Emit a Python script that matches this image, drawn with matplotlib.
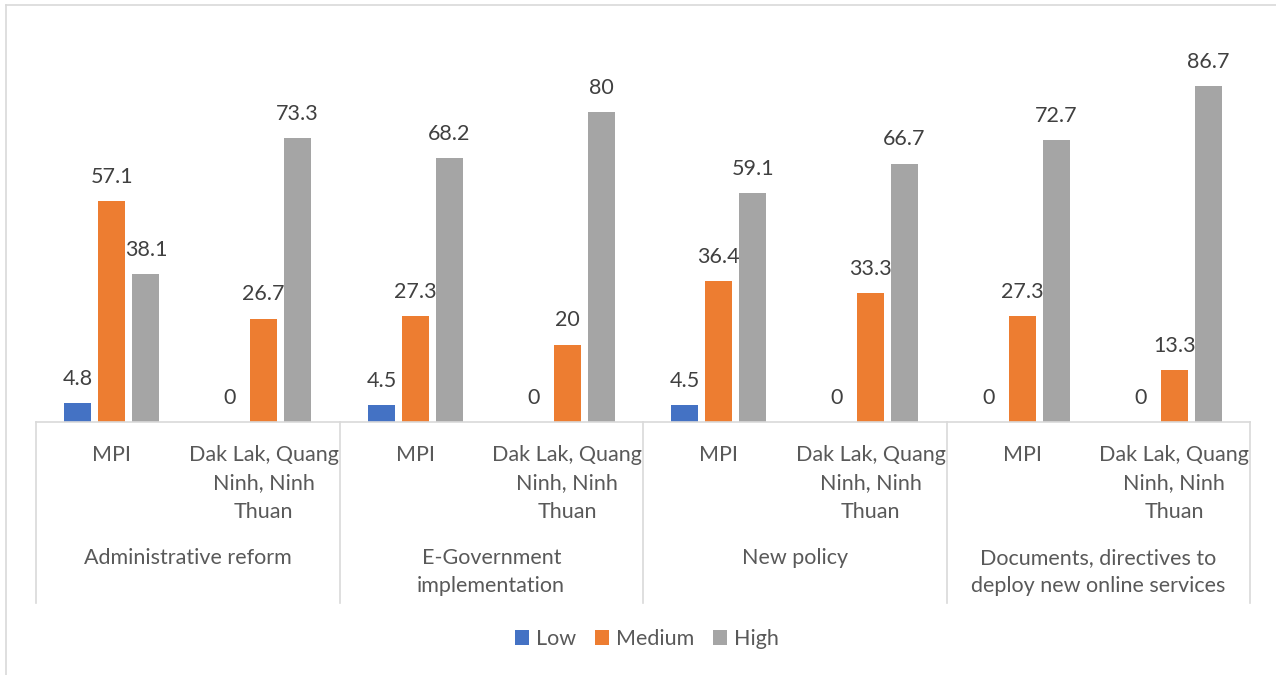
"""
Clustered bar chart: perceived level (Low/Medium/High) by topic and respondent group
"""

import numpy as np
import matplotlib.pyplot as plt
from matplotlib.lines import Line2D
from matplotlib.patches import Patch

plt.rcParams["font.family"] = ["Lato", "DejaVu Sans"]

# data
groups = [
    "Administrative reform",
    "E-Government\nimplementation",
    "New policy",
    "Documents, directives to\ndeploy new online services",
]
subgroups = ["MPI", "Dak Lak, Quang\nNinh, Ninh\nThuan"]
series = ["Low", "Medium", "High"]
low = [4.8, 0, 4.5, 0, 4.5, 0, 0, 0]
medium = [57.1, 26.7, 27.3, 20, 36.4, 33.3, 27.3, 13.3]
high = [38.1, 73.3, 68.2, 80, 59.1, 66.7, 72.7, 86.7]
colors = ["#4472C4", "#ED7D31", "#A5A5A5"]

W, H = 1276, 675
fig = plt.figure(figsize=(W / 100, H / 100), dpi=100)
ax = fig.add_axes([36 / W, 253 / H, 1214 / W, 387.5 / H])

n_cat = len(groups) * len(subgroups)
x = np.arange(n_cat)
step = 0.224
width = 0.178
text_col = "#595959"
fs = 15.5

for k, (name, vals, c) in enumerate(zip(series, [low, medium, high], colors)):
    xs = x + (k - 1) * step
    ax.bar(xs, vals, width=width, color=c, label=name)
    for xi, v in zip(xs, vals):
        ax.annotate(f"{v:g}", xy=(xi, v), xytext=(0, 13), textcoords="offset points",
                    ha="center", va="baseline", fontsize=fs, color="#404040")

ax.set_xlim(-0.5, n_cat - 0.5)
ax.set_ylim(0, 100)
for s in ["top", "left", "right"]:
    ax.spines[s].set_visible(False)
ax.spines["bottom"].set_color("#d9d9d9")
ax.spines["bottom"].set_linewidth(1.2)
ax.set_xticks([])
ax.set_yticks([])

px = 72 / 100  # pixels -> points
# sub-category labels
for i in range(n_cat):
    lab = subgroups[i % len(subgroups)]
    for j, line in enumerate(lab.split("\n")):
        ax.annotate(line, xy=(i, 0), xycoords=("data", "axes fraction"),
                    xytext=(0, -(33 + 28.5 * j) * px), textcoords="offset points",
                    ha="center", va="center", fontsize=fs, color=text_col)

# group labels
for g, lab in enumerate(groups):
    xc = g * len(subgroups) + 0.5
    for j, line in enumerate(lab.split("\n")):
        ax.annotate(line, xy=(xc, 0), xycoords=("data", "axes fraction"),
                    xytext=(0, -(136 + 28.5 * j) * px), textcoords="offset points",
                    ha="center", va="center", fontsize=fs, color=text_col)

# group separators
sep_len = 181 / 387.5
for b in np.arange(-0.5, n_cat, len(subgroups)):
    ax.plot([b, b], [0, -sep_len], transform=ax.get_xaxis_transform(),
            color="#d9d9d9", lw=1.2, clip_on=False)

# legend
handles = [Patch(facecolor=c, label=s) for s, c in zip(series, colors)]
fig.legend(handles=handles, loc="center", bbox_to_anchor=(647 / W, 1 - 639 / H),
           ncol=3, frameon=False, fontsize=fs, handlelength=0.65, handleheight=0.65,
           handletextpad=0.3, columnspacing=0.9, labelcolor=text_col)

# chart border (right/bottom edges fall outside the image)
fig.add_artist(Line2D([6 / W, 1], [1 - 5 / H, 1 - 5 / H], color="#d9d9d9", lw=1.2))
fig.add_artist(Line2D([6 / W, 6 / W], [0, 1 - 5 / H], color="#d9d9d9", lw=1.2))

fig.savefig("out.png", dpi=100)
plt.close(fig)
